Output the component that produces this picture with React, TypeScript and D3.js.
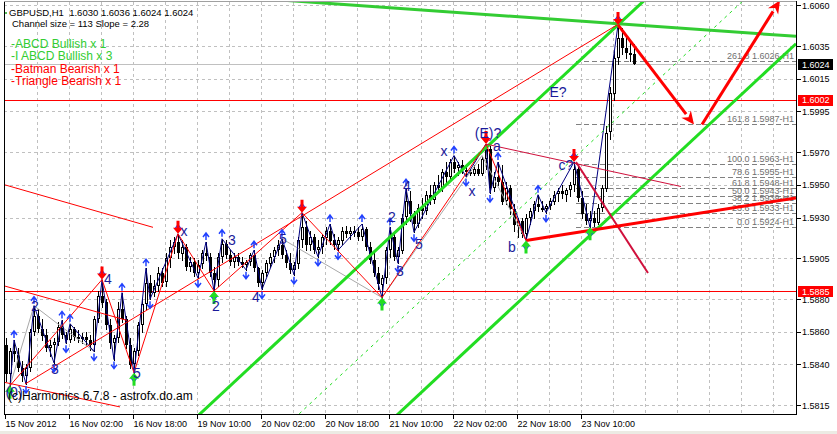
import React from 'react';
import * as d3 from 'd3';

// GBPUSD H1, one bar per hour from 15 Nov 2012
const opens = [
  1.5852,1.5834,1.5848,1.5846,1.5838,1.5833,1.5838,1.5860,1.5870,1.5862,
  1.5858,1.5850,1.5852,1.5854,1.5863,1.5858,1.5855,1.5862,1.5857,1.5856,
  1.5857,1.5855,1.5852,1.5868,1.5882,1.5878,1.5864,1.5853,1.5856,1.5874,
  1.5868,1.5852,1.5840,1.5848,1.5864,1.5877,1.5890,1.5884,1.5888,1.5896,
  1.5890,1.5905,1.5912,1.5915,1.5908,1.5912,1.5900,1.5903,1.5896,1.5901,
  1.5908,1.5906,1.5896,1.5892,1.5906,1.5914,1.5907,1.5903,1.5906,1.5903,
  1.5901,1.5903,1.5907,1.5899,1.5890,1.5896,1.5902,1.5906,1.5910,1.5913,
  1.5907,1.5902,1.5898,1.5901,1.5916,1.5924,1.5913,1.5918,1.5910,1.5912,
  1.5918,1.5922,1.5916,1.5913,1.5916,1.5922,1.5920,1.5922,1.5921,1.5918,
  1.5923,1.5912,1.5904,1.5896,1.5889,1.5893,1.5910,1.5918,1.5906,1.5910,
  1.5930,1.5940,1.5932,1.5926,1.5936,1.5934,1.5944,1.5941,1.5950,1.5948,
  1.5958,1.5955,1.5964,1.5960,1.5962,1.5959,1.5958,1.5957,1.5960,1.5957,
  1.5966,1.5972,1.5948,1.5955,1.5952,1.5940,1.5948,1.5935,1.5925,1.5928,
  1.5920,1.5930,1.5934,1.5938,1.5936,1.5935,1.5937,1.5940,1.5944,1.5946,
  1.5944,1.5947,1.5950,1.5960,1.5942,1.5932,1.5928,1.5930,1.5927,1.5936,
  1.5948,1.5982,1.6006,1.6028,1.6040,1.6034,1.6031,1.6030,
];
const highs = [
  1.5856,1.5850,1.5855,1.5850,1.5842,1.5840,1.5862,1.5876,1.5874,1.5868,
  1.5862,1.5855,1.5856,1.5866,1.5867,1.5860,1.5865,1.5863,1.5861,1.5859,
  1.5860,1.5858,1.5870,1.5885,1.5892,1.5880,1.5868,1.5858,1.5878,1.5884,
  1.5870,1.5856,1.5850,1.5866,1.5880,1.5899,1.5895,1.5892,1.5900,1.5899,
  1.5908,1.5916,1.5918,1.5920,1.5916,1.5914,1.5906,1.5905,1.5904,1.5910,
  1.5915,1.5908,1.5900,1.5908,1.5917,1.5916,1.5910,1.5908,1.5908,1.5906,
  1.5904,1.5908,1.5910,1.5900,1.5898,1.5904,1.5908,1.5912,1.5916,1.5917,
  1.5910,1.5908,1.5903,1.5918,1.5933,1.5928,1.5922,1.5920,1.5916,1.5920,
  1.5924,1.5926,1.5920,1.5918,1.5924,1.5925,1.5924,1.5925,1.5924,1.5926,
  1.5924,1.5915,1.5908,1.5900,1.5895,1.5912,1.5924,1.5920,1.5912,1.5932,
  1.5948,1.5946,1.5934,1.5938,1.5942,1.5946,1.5950,1.5952,1.5956,1.5960,
  1.5964,1.5966,1.5968,1.5964,1.5965,1.5962,1.5960,1.5962,1.5963,1.5968,
  1.5975,1.5974,1.5958,1.5964,1.5962,1.5952,1.5950,1.5938,1.5930,1.5930,
  1.5932,1.5936,1.5940,1.5944,1.5940,1.5938,1.5942,1.5946,1.5948,1.5950,
  1.5948,1.5952,1.5964,1.5962,1.5946,1.5938,1.5934,1.5934,1.5938,1.5950,
  1.5986,1.6010,1.6032,1.6048,1.6046,1.6040,1.6037,1.6036,
];
const lows = [
  1.5830,1.5827,1.5842,1.5836,1.5830,1.5828,1.5836,1.5858,1.5860,1.5855,
  1.5848,1.5845,1.5841,1.5852,1.5856,1.5853,1.5854,1.5855,1.5854,1.5853,
  1.5852,1.5849,1.5848,1.5866,1.5875,1.5862,1.5850,1.5843,1.5854,1.5866,
  1.5850,1.5838,1.5835,1.5846,1.5860,1.5874,1.5880,1.5882,1.5885,1.5888,
  1.5888,1.5900,1.5908,1.5905,1.5904,1.5898,1.5897,1.5894,1.5893,1.5899,
  1.5904,1.5894,1.5885,1.5888,1.5903,1.5905,1.5901,1.5900,1.5901,1.5900,
  1.5898,1.5901,1.5897,1.5888,1.5886,1.5894,1.5900,1.5903,1.5907,1.5905,
  1.5900,1.5896,1.5895,1.5899,1.5912,1.5910,1.5910,1.5908,1.5906,1.5908,
  1.5914,1.5914,1.5911,1.5910,1.5914,1.5918,1.5917,1.5919,1.5916,1.5916,
  1.5910,1.5902,1.5894,1.5886,1.5881,1.5890,1.5906,1.5904,1.5902,1.5908,
  1.5926,1.5928,1.5921,1.5924,1.5930,1.5932,1.5938,1.5939,1.5946,1.5946,
  1.5952,1.5953,1.5958,1.5956,1.5957,1.5955,1.5956,1.5956,1.5956,1.5956,
  1.5960,1.5945,1.5946,1.5950,1.5938,1.5938,1.5932,1.5922,1.5918,1.5918,
  1.5916,1.5926,1.5930,1.5934,1.5934,1.5933,1.5935,1.5938,1.5940,1.5942,
  1.5940,1.5943,1.5946,1.5940,1.5930,1.5926,1.5924,1.5925,1.5926,1.5934,
  1.5946,1.5978,1.6002,1.6024,1.6030,1.6028,1.6026,1.6024,
];
const closes = [
  1.5834,1.5848,1.5846,1.5838,1.5833,1.5838,1.5860,1.5870,1.5862,1.5858,
  1.5850,1.5852,1.5854,1.5863,1.5858,1.5855,1.5862,1.5857,1.5856,1.5857,
  1.5855,1.5852,1.5868,1.5882,1.5878,1.5864,1.5853,1.5856,1.5874,1.5868,
  1.5852,1.5840,1.5848,1.5864,1.5877,1.5890,1.5884,1.5888,1.5896,1.5890,
  1.5905,1.5912,1.5915,1.5908,1.5912,1.5900,1.5903,1.5896,1.5901,1.5908,
  1.5906,1.5896,1.5892,1.5906,1.5914,1.5907,1.5903,1.5906,1.5903,1.5901,
  1.5903,1.5907,1.5899,1.5890,1.5896,1.5902,1.5906,1.5910,1.5913,1.5907,
  1.5902,1.5898,1.5901,1.5916,1.5924,1.5913,1.5918,1.5910,1.5912,1.5918,
  1.5922,1.5916,1.5913,1.5916,1.5922,1.5920,1.5922,1.5921,1.5918,1.5923,
  1.5912,1.5904,1.5896,1.5889,1.5893,1.5910,1.5918,1.5906,1.5910,1.5930,
  1.5940,1.5932,1.5926,1.5936,1.5934,1.5944,1.5941,1.5950,1.5948,1.5958,
  1.5955,1.5964,1.5960,1.5962,1.5959,1.5958,1.5957,1.5960,1.5957,1.5966,
  1.5972,1.5948,1.5955,1.5952,1.5940,1.5948,1.5935,1.5925,1.5928,1.5920,
  1.5930,1.5934,1.5938,1.5936,1.5935,1.5937,1.5940,1.5944,1.5946,1.5944,
  1.5947,1.5950,1.5960,1.5942,1.5932,1.5928,1.5930,1.5927,1.5936,1.5948,
  1.5982,1.6006,1.6028,1.6040,1.6034,1.6031,1.6030,1.6024,
];

const priceTicks = [1.606, 1.6035, 1.6015, 1.5995, 1.597, 1.595, 1.593, 1.5905, 1.588, 1.586, 1.584, 1.5815];
const timeLabels = ['15 Nov 2012', '16 Nov 02:00', '16 Nov 18:00', '19 Nov 10:00', '20 Nov 02:00',
  '20 Nov 18:00', '21 Nov 10:00', '22 Nov 02:00', '22 Nov 18:00', '23 Nov 10:00'];
const barsPerLabel = 16;

const fibRatios = ['261.8', '161.8', '100.0', '78.6', '61.8', '50.0', '38.2', '23.6', '0.0'];
const fibPrices = [1.6026, 1.5987, 1.5963, 1.5955, 1.5948, 1.5943, 1.5939, 1.5933, 1.5924];
const fibStartBar = 142.5;

// zigzag turning points: bar index + H/L
const zzBars = [1, 2, 5, 7, 12, 14, 15, 16, 22, 24, 27, 29, 32, 35, 36, 43, 48, 50, 52, 54, 60, 62, 64, 69, 72, 74,
  78, 81, 83, 89, 94, 96, 98, 100, 102, 112, 115, 120, 121, 123, 130, 133, 135, 142, 146, 153];
const zzTypes = 'LHLHLHLHLHLHLHLHLHLHLHLHLHLHLHLHLHLHLHLHLHLHLH';

const sellBars = [24, 43, 74, 120, 142, 153];
const buyBars = [1, 32, 52, 94, 130, 146];

// thin red pattern legs [bar, H/L, bar, H/L]
const redLegs: [number, string, number, string][] = [
  [1, 'L', 24, 'H'], [24, 'H', 32, 'L'], [32, 'L', 43, 'H'], [43, 'H', 52, 'L'], [52, 'L', 74, 'H'],
  [74, 'H', 94, 'L'], [94, 'L', 120, 'H'], [120, 'H', 130, 'L'],
];
const grayLegs: [number, string, number, string][] = [
  [1, 'L', 7, 'H'], [7, 'H', 22, 'L'], [69, 'H', 94, 'L'], [94, 'L', 119, 'H'], [119, 'H', 130, 'L'],
];
// free trend lines [bar1, price1, bar2, price2]
const redThin = [
  [-0.25, 1.5950, 36.75, 1.5924],
  [-0.25, 1.5888, 30.25, 1.5867],
  [-0.25, 1.5829, 28.5, 1.5814],
  [4.75, 1.5828, 152.75, 1.6048],
];
const crimsonThin = [[120, 1.5975, 168.75, 1.5949]];
const crimsonThick = [[142.5, 1.5964, 160.5, 1.5896]];
const redSupport = [[130, 1.5916, 197.5, 1.5942]];
const greenTop = [[70, 1.6063, 197.5, 1.6041]];
const redArrows = [[153, 1.6048, 172, 1.5987], [174, 1.5987, 193.5, 1.6063]];

const channelSize = 0.0113;
const channelSlope = 0.000228; // per bar
const channelAnchor = 153;

const hLevels = [
  { price: 1.6024, color: '#c0c0c0', box: '#000000' },
  { price: 1.6002, color: '#ff0000', box: '#ff0000' },
  { price: 1.5885, color: '#ff0000', box: '#ff0000' },
];

const legend = [
  { text: '-ABCD Bullish x 1', color: '#32cd32' },
  { text: '-I ABCD Bullish x 3', color: '#32cd32' },
  { text: '-Batman Bearish x 1', color: '#ff0000' },
  { text: '-Triangle Bearish x 1', color: '#ff0000' },
];

const waveLabels: [string, number, number][] = [
  ['2', 7.25, 1.5873], ['3', 12.25, 1.5834], ['4', 25.5, 1.5889], ['5', 32.75, 1.5832],
  ['x', 44.5, 1.5919], ['2', 52.5, 1.5873], ['3', 56.5, 1.5913], ['4', 62.5, 1.5878], ['5', 69.25, 1.5914],
  ['2', 96.5, 1.5927], ['3', 98.5, 1.5894], ['4', 100.25, 1.5946], ['5', 103.25, 1.5911],
  ['x', 109.5, 1.5968], ['x', 116.5, 1.5943], ['(E)?', 120.5, 1.5979], ['a', 122.75, 1.5971],
  ['b', 126.5, 1.5909], ['c?', 140, 1.5959], ['E?', 138, 1.6004], ['(0)', 2, 1.5820],
];

const FONT = "'Liberation Sans', Arial, sans-serif";
const plot = { left: 4, right: 796, top: 2, bottom: 414 };

export default function App() {
  const xs = d3.scaleLinear().domain([-0.5, 197.5]).range([plot.left, plot.right]);
  const ys = d3.scaleLinear().domain([1.5815, 1.606]).range([405.3, 5.3]);
  const px = (t: string, i: number) => (t === 'H' ? highs[i] : lows[i]);

  const chanUpper = (i: number) => highs[channelAnchor] + channelSlope * (i - channelAnchor);
  const chanLines = [
    { off: 0, w: 3, dash: undefined },
    { off: channelSize / 2, w: 1, dash: '3,4' },
    { off: channelSize, w: 3, dash: undefined },
  ];

  const arrowHead = (x1: number, y1: number, x2: number, y2: number, len = 13, half = 6) => {
    const dx = x2 - x1, dy = y2 - y1;
    const L = Math.hypot(dx, dy);
    const ux = dx / L, uy = dy / L;
    const bx = x2 - ux * len, by = y2 - uy * len;
    const nx = -uy, ny = ux;
    return {
      bx, by,
      d: `M${x2},${y2}L${bx + nx * half},${by + ny * half}L${x2 - ux * len * 0.7},${y2 - uy * len * 0.7}L${bx - nx * half},${by - ny * half}Z`,
    };
  };

  const line = (k: string, s: number[], color: string, w: number, dash?: string) => (
    <line key={k} x1={xs(s[0])} y1={ys(s[1])} x2={xs(s[2])} y2={ys(s[3])} stroke={color} strokeWidth={w} strokeDasharray={dash} />
  );

  const zzPoints = zzBars.map((b, k) => [xs(b), ys(px(zzTypes[k], b))] as [number, number]);

  return (
    <svg width={837} height={434} style={{ position: 'absolute', left: 0, top: 0, background: '#fff' }} fontFamily={FONT}>
      <defs>
        <clipPath id="plotClip">
          <rect x={plot.left} y={plot.top} width={plot.right - plot.left} height={plot.bottom - plot.top} />
        </clipPath>
      </defs>
      <rect x={0} y={0} width={837} height={434} fill="#fff" />
      <rect x={0} y={431} width={837} height={3} fill="#ecebe4" />

      {/* grid */}
      <g stroke="#c0c0c0" strokeDasharray="3,3" strokeWidth={1}>
        {d3.range(8, 198, 8).map((b) => (
          <line key={'v' + b} x1={Math.round(xs(b)) - 0.5} x2={Math.round(xs(b)) - 0.5} y1={plot.top} y2={plot.bottom} />
        ))}
        {priceTicks.map((p) => (
          <line key={'h' + p} x1={plot.left} x2={plot.right} y1={Math.round(ys(p)) + 0.5} y2={Math.round(ys(p)) + 0.5} />
        ))}
      </g>

      <g clipPath="url(#plotClip)">
        {/* horizontal levels */}
        {hLevels.map((h) => (
          <line key={'lv' + h.price} x1={plot.left} x2={plot.right} y1={Math.round(ys(h.price)) + 0.5} y2={Math.round(ys(h.price)) + 0.5} stroke={h.color} />
        ))}
        {/* fibonacci */}
        {fibPrices.map((p, k) => (
          <g key={'f' + k}>
            <line x1={xs(fibStartBar)} x2={plot.right} y1={Math.round(ys(p)) + 0.5} y2={Math.round(ys(p)) + 0.5} stroke="#808080" strokeDasharray="5,3" />
            <text x={plot.right - 2} y={ys(p) - 2} textAnchor="end" fontSize={9} fill="#707070">
              {`${fibRatios[k]} ${p.toFixed(4)}-H1`}
            </text>
          </g>
        ))}

        {/* candles */}
        {closes.map((c, i) => {
          const cx = Math.round(xs(i));
          const o = opens[i];
          const yO = ys(o), yC = ys(c);
          const top = Math.round(Math.min(yO, yC));
          const hgt = Math.max(1, Math.round(Math.abs(yO - yC)));
          const bull = c >= o;
          return (
            <g key={'c' + i}>
              <line x1={cx + 0.5} x2={cx + 0.5} y1={Math.round(ys(highs[i]))} y2={Math.round(ys(lows[i])) + 1} stroke="#000" />
              {bull ? (
                <rect x={cx - 0.5} y={top + 0.5} width={2} height={Math.max(1, hgt - 1)} fill="#fff" stroke="#000" />
              ) : (
                <rect x={cx - 1} y={top} width={3} height={hgt} fill="#000" />
              )}
            </g>
          );
        })}

        {/* gray pattern legs */}
        {grayLegs.map((g, k) =>
          line('g' + k, [g[0], px(g[1], g[0]), g[2], px(g[3], g[2])], '#a8a8a8', 1))}

        {/* zigzag */}
        <path d={d3.line()(zzPoints) || ''} fill="none" stroke="#000080" strokeWidth={1} />

        {/* channel */}
        {chanLines.map((c, k) =>
          line('ch' + k, [40, chanUpper(40) - c.off, 197.5, chanUpper(197.5) - c.off], '#22dd22', c.w, c.dash))}
        {greenTop.map((s, k) => line('gt' + k, s, '#33cc33', 3))}

        {/* red pattern legs */}
        {redLegs.map((g, k) =>
          line('r' + k, [g[0], px(g[1], g[0]), g[2], px(g[3], g[2])], '#ff0000', 1))}
        {redThin.map((s, k) => line('rt' + k, s, '#ff0000', 1))}
        {crimsonThin.map((s, k) => line('ct' + k, s, '#d0103c', 1))}
        {crimsonThick.map((s, k) => line('ck' + k, s, '#d0103c', 2))}
        {redSupport.map((s, k) => line('rs' + k, s, '#ff0000', 3))}

        {/* projection arrows */}
        {redArrows.map((s, k) => {
          const x1 = xs(s[0]), y1 = ys(s[1]), x2 = xs(s[2]), y2 = ys(s[3]);
          const h = arrowHead(x1, y1, x2, y2);
          return (
            <g key={'ra' + k}>
              <line x1={x1} y1={y1} x2={h.bx} y2={h.by} stroke="#ff0000" strokeWidth={3} />
              <path d={h.d} fill="#ff0000" />
            </g>
          );
        })}

        {/* zigzag markers */}
        {zzBars.map((b, k) => {
          const x = xs(b);
          const hi = zzTypes[k] === 'H';
          const y = ys(px(zzTypes[k], b)) + (hi ? -2 : 2);
          const s = hi ? 1 : -1;
          return (
            <path key={'zm' + k}
              d={`M${x - 3},${y - s * 3}L${x},${y - s * 7}L${x + 3},${y - s * 3}M${x},${y - s * 7}L${x},${y}`}
              fill="none" stroke="#2040ff" strokeWidth={1.5} />
          );
        })}

        {/* sell / buy signals */}
        {sellBars.map((b) => {
          const x = xs(b), y = ys(highs[b]);
          return (
            <path key={'s' + b} d={`M${x},${y}L${x - 5},${y - 6}L${x - 1.5},${y - 6}L${x - 1.5},${y - 13}L${x + 1.5},${y - 13}L${x + 1.5},${y - 6}L${x + 5},${y - 6}Z`} fill="#ff0000" />
          );
        })}
        {buyBars.map((b) => {
          const x = xs(b), y = ys(lows[b]);
          return (
            <path key={'b' + b} d={`M${x},${y}L${x - 5},${y + 6}L${x - 1.5},${y + 6}L${x - 1.5},${y + 13}L${x + 1.5},${y + 13}L${x + 1.5},${y + 6}L${x + 5},${y + 6}Z`} fill="#22dd22" />
          );
        })}

        {/* wave labels */}
        {waveLabels.map(([t, b, p], k) => (
          <text key={'wl' + k} x={xs(b)} y={ys(p)} textAnchor="middle" fontSize={14} fill="#1a1a9a">{t}</text>
        ))}

        <text x={8} y={400} fontSize={12} fill="#000">(c)Harmonics 6.7.8 - astrofx.do.am</text>
      </g>

      {/* header */}
      <circle cx={6} cy={13} r={1} fill="#22aa22" />
      <text x={9} y={16} fontSize={9.5} fill="#000" style={{ whiteSpace: 'pre' }}>{'GBPUSD,H1  1.6030 1.6036 1.6024 1.6024'}</text>
      <text x={12} y={27} fontSize={9.5} fill="#000">Channel size = 113 Slope = 2.28</text>
      {legend.map((l, k) => (
        <text key={'lg' + k} x={11} y={48 + k * 12.4} fontSize={12} fill={l.color}>{l.text}</text>
      ))}

      {/* frame */}
      <line x1={plot.left + 0.5} x2={plot.left + 0.5} y1={plot.top} y2={plot.bottom} stroke="#000" />
      <line x1={plot.left} x2={plot.right} y1={plot.top - 0.5} y2={plot.top - 0.5} stroke="#a0a0a0" />
      <line x1={plot.right + 0.5} x2={plot.right + 0.5} y1={plot.top - 1} y2={plot.bottom + 1} stroke="#000" />
      <line x1={plot.left} x2={plot.right + 1} y1={plot.bottom + 0.5} y2={plot.bottom + 0.5} stroke="#000" />

      {/* price axis */}
      {priceTicks.map((p) => (
        <g key={'pt' + p}>
          <line x1={plot.right} x2={plot.right + 5} y1={Math.round(ys(p)) + 0.5} y2={Math.round(ys(p)) + 0.5} stroke="#000" />
          <text x={plot.right + 6} y={ys(p) + 3.5} fontSize={9} fill="#000">{p.toFixed(4)}</text>
        </g>
      ))}
      {hLevels.map((h) => (
        <g key={'bx' + h.price}>
          <rect x={plot.right + 2} y={Math.round(ys(h.price)) - 5} width={35} height={11} fill={h.box} />
          <text x={plot.right + 6} y={ys(h.price) + 3.5} fontSize={9} fill="#fff">{h.price.toFixed(4)}</text>
        </g>
      ))}

      {/* time axis */}
      {timeLabels.map((t, k) => {
        const x = Math.round(xs(k * barsPerLabel)) - 0.5;
        return (
          <g key={'tl' + k}>
            <line x1={x} x2={x} y1={plot.bottom} y2={plot.bottom + 5} stroke="#000" />
            <text x={x} y={427} fontSize={9} fill="#000">{t}</text>
          </g>
        );
      })}
    </svg>
  );
}
